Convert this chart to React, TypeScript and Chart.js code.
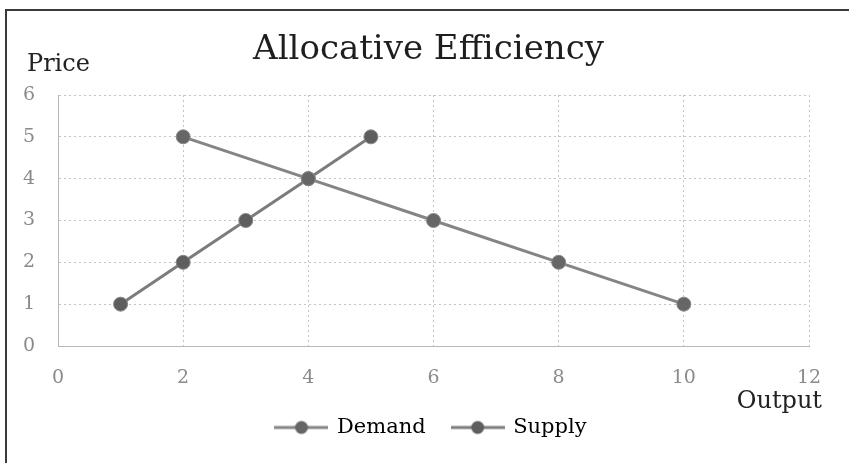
import React, { useEffect, useRef } from 'react';
import { Chart, registerables } from 'chart.js';

Chart.register(...registerables);

const titleText = 'Allocative Efficiency';
const yAxisLabel = 'Price';
const xAxisLabel = 'Output';
const seriesNames = ['Demand', 'Supply'];
const demandX = [2, 4, 6, 8, 10];
const demandY = [5, 4, 3, 2, 1];
const supplyX = [1, 2, 3, 4, 5];
const supplyY = [1, 2, 3, 4, 5];
const xTicks = [0, 2, 4, 6, 8, 10, 12];
const yTicks = [0, 1, 2, 3, 4, 5, 6];

const FONT = "'DejaVu Serif', serif";
const LINE_COLORS = ['#858585', '#7c7c7c'];
const POINT_COLORS = ['#666666', '#5e5e5e'];

function makeLegendIcon(lineColor: string, pointColor: string) {
  const c = document.createElement('canvas');
  c.width = 54;
  c.height = 16;
  const ctx = c.getContext('2d')!;
  ctx.strokeStyle = lineColor;
  ctx.lineWidth = 3;
  ctx.beginPath();
  ctx.moveTo(0, 8);
  ctx.lineTo(54, 8);
  ctx.stroke();
  ctx.fillStyle = pointColor;
  ctx.beginPath();
  ctx.arc(27, 8, 6.5, 0, Math.PI * 2);
  ctx.fill();
  return c;
}

const extras = {
  id: 'extras',
  afterLayout(chart: any) {
    if (chart.titleBlock) {
      chart.titleBlock.left += 24;
      chart.titleBlock.right += 24;
    }
    if (chart.legend) {
      chart.legend.left += 27;
      chart.legend.right += 27;
    }
  },
  beforeDraw(chart: any) {
    const ctx = chart.ctx;
    ctx.save();
    ctx.fillStyle = '#ffffff';
    ctx.fillRect(0, 0, chart.width, chart.height);
    ctx.fillStyle = '#3a3a3a';
    ctx.fillRect(5, 9, chart.width - 5, 2);
    ctx.fillRect(5, 9, 2, chart.height - 9);
    ctx.restore();
  },
  afterDraw(chart: any) {
    const ctx = chart.ctx;
    ctx.save();
    ctx.fillStyle = '#222222';
    ctx.font = `24px ${FONT}`;
    ctx.textBaseline = 'alphabetic';
    ctx.textAlign = 'left';
    ctx.fillText(yAxisLabel, 27, 71);
    ctx.textAlign = 'right';
    ctx.fillText(xAxisLabel, 822, 408);
    ctx.restore();
  },
};

export default function App() {
  const ref = useRef<HTMLCanvasElement | null>(null);

  useEffect(() => {
    if (!ref.current) return;
    const icons = [
      makeLegendIcon(LINE_COLORS[0], POINT_COLORS[0]),
      makeLegendIcon(LINE_COLORS[1], POINT_COLORS[1]),
    ];
    const gridCommon = {
      color: '#c4c4c4',
      lineWidth: 1,
      drawTicks: false,
    };
    const chart = new Chart(ref.current, {
      type: 'line',
      data: {
        datasets: [
          {
            label: seriesNames[0],
            data: demandX.map((x, i) => ({ x, y: demandY[i] })),
            borderColor: LINE_COLORS[0],
            backgroundColor: POINT_COLORS[0],
            pointBackgroundColor: POINT_COLORS[0],
            pointBorderColor: '#8a8a8a',
            pointBorderWidth: 1,
            pointRadius: 7,
            borderWidth: 3,
            fill: false,
          },
          {
            label: seriesNames[1],
            data: supplyX.map((x, i) => ({ x, y: supplyY[i] })),
            borderColor: LINE_COLORS[1],
            backgroundColor: POINT_COLORS[1],
            pointBackgroundColor: POINT_COLORS[1],
            pointBorderColor: '#888888',
            pointBorderWidth: 1,
            pointRadius: 7,
            borderWidth: 3,
            fill: false,
          },
        ],
      },
      options: {
        animation: false,
        responsive: false,
        devicePixelRatio: 1,
        layout: { padding: { left: 0, right: 40, top: 0, bottom: 15 } },
        scales: {
          x: {
            type: 'linear',
            min: 0,
            max: 12,
            afterBuildTicks: (s: any) => {
              s.ticks = xTicks.map((v) => ({ value: v }));
            },
            afterFit: (s: any) => {
              s.height = 44;
            },
            grid: gridCommon,
            border: { display: true, color: '#b8b8b8', dash: [2, 3] },
            ticks: {
              padding: 21,
              color: '#8a8a8a',
              font: { family: FONT, size: 19 },
              maxRotation: 0,
            },
          },
          y: {
            type: 'linear',
            min: 0,
            max: 6,
            afterBuildTicks: (s: any) => {
              s.ticks = yTicks.map((v) => ({ value: v }));
            },
            afterFit: (s: any) => {
              s.width = 58;
            },
            grid: gridCommon,
            border: { display: true, color: '#b8b8b8', dash: [2, 3] },
            ticks: {
              padding: 23,
              color: '#8a8a8a',
              font: { family: FONT, size: 19 },
            },
          },
        },
        plugins: {
          title: {
            display: true,
            text: titleText,
            color: '#1e1e1e',
            font: { family: FONT, size: 34, weight: 'normal' },
            padding: { top: 30, bottom: 24.2 },
          },
          legend: {
            display: true,
            position: 'bottom',
            labels: {
              usePointStyle: true,
              pointStyleWidth: 50,
              padding: 27,
              color: '#222222',
              font: { family: FONT, size: 21 },
              generateLabels: (chart: any) =>
                chart.data.datasets.map((ds: any, i: number) => ({
                  text: ds.label,
                  pointStyle: icons[i],
                  fillStyle: POINT_COLORS[i],
                  strokeStyle: LINE_COLORS[i],
                  lineWidth: 0,
                  hidden: false,
                  datasetIndex: i,
                })),
            },
          },
          tooltip: { enabled: false },
        },
      },
      plugins: [extras],
    } as any);
    return () => chart.destroy();
  }, []);

  return (
    <div style={{ position: 'fixed', left: 0, top: 0, width: 849, height: 463, background: '#fff' }}>
      <canvas ref={ref} width={849} height={463} style={{ display: 'block' }} />
    </div>
  );
}
